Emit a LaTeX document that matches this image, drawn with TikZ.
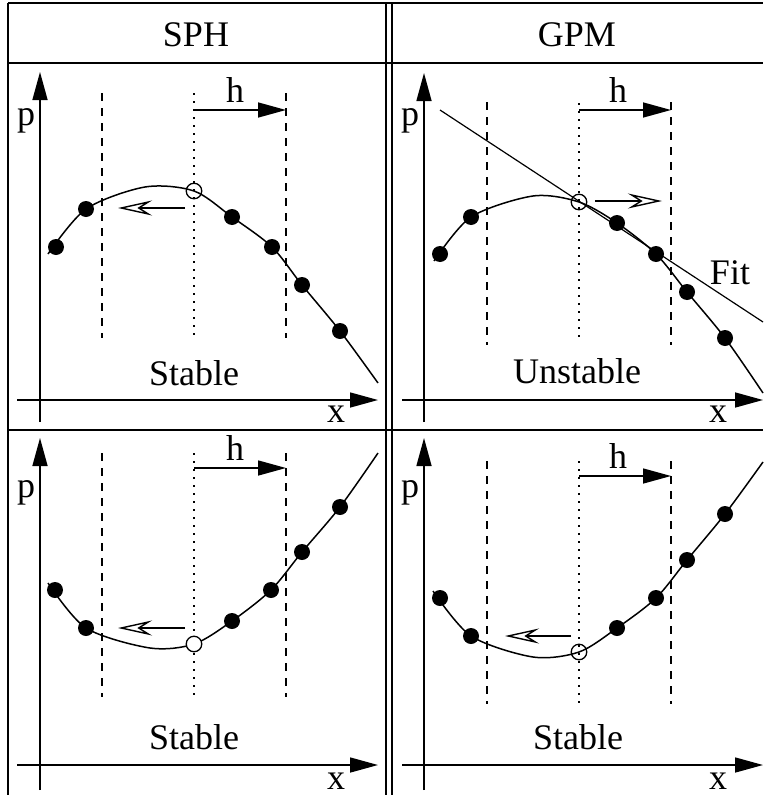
\documentclass[tikz,border=0pt]{standalone}
\usepackage{fontspec}
\setmainfont{Liberation Serif}
\usetikzlibrary{arrows.meta}

\tikzset{
  sample/.style={circle, fill=black, inner sep=0pt, minimum size=16pt},
  ring/.style={circle, draw, inner sep=0pt, minimum size=15.5pt, line width=1.3pt},
  guide/.style={dash pattern=on 8pt off 7pt, line width=1.3pt},
  centre/.style={dash pattern=on 1.5pt off 6.5pt, line width=1.5pt},
  axisline/.style={-{Triangle[length=28pt,width=15pt]}, line width=1.5pt},
  drift/.style={-{Stealth[open,length=34pt,width=15pt,inset=12pt]}, line width=1.4pt},
  lbl/.style={anchor=base, inner sep=0pt, font=\fontsize{36}{40}\selectfont},
}

\begin{document}
\begin{tikzpicture}[x=1pt, y=-1pt, line width=1.5pt]
\useasboundingbox (0,0) rectangle (763,795);

% table frame
\draw[line width=2pt] (8,3) -- (763,3);
\draw[line width=2pt] (8,63) -- (763,63);
\draw[line width=2pt] (8,430) -- (763,430);
\draw[line width=2pt] (8,3) -- (8,795);
\draw[line width=1.5pt] (386,3) -- (386,795);
\draw[line width=1.5pt] (392,3) -- (392,795);
\node[lbl] (sph) at (196,46) {SPH};
\node[lbl] (gpm) at (577,46) {GPM};

% SPH, top
\draw[axisline] (40,422) -- (40,72);
\draw[axisline] (17,400) -- (378,400);
\node[lbl] (p1) at (26,125) {p};
\node[lbl] (x1) at (336,422) {x};
\draw[guide] (102,93) -- (102,338);
\draw[guide] (286,93) -- (286,338);
\draw[centre] (194,93) -- (194,336);
\draw[axisline] (194,110) -- (286,110);
\node[lbl] (h1) at (235,102) {h};
\draw plot[smooth] coordinates {(48,254) (86,209) (145,187) (194,191) (232,217) (272,247) (302,285) (340,331) (378,383)};
\draw[drift] (185,208) -- (118,208);
\foreach \pos in {(56,247),(86,209),(232,217),(272,247),(302,285),(340,331)}
  \node[sample] at \pos {};
\node[ring] (c1) at (194,191) {};
\node[lbl] (s1) at (194,385) {Stable};

% GPM, top
\draw[axisline] (424,422) -- (424,73);
\draw[axisline] (402,400) -- (763,400);
\node[lbl] (p2) at (410,125) {p};
\node[lbl] (x2) at (718,422) {x};
\draw[guide] (487,102) -- (487,345);
\draw[guide] (671,102) -- (671,345);
\draw[centre] (579,103) -- (579,343);
\draw[axisline] (579,110) -- (671,110);
\node[lbl] (h2) at (618,102) {h};
\draw[line width=1.2pt] (440,110) -- (763,322);
\draw plot[smooth] coordinates {(434,261) (471,217) (533,196) (579,202) (617,223) (656,254) (687,292) (725,338) (763,393)};
\draw[drift] (595,201) -- (662,201);
\foreach \pos in {(440,254),(471,217),(617,223),(656,254),(687,292),(725,338)}
  \node[sample] at \pos {};
\node[ring] (c2) at (579,202) {};
\node[lbl] (fit) at (730,284) {Fit};
\node[lbl] (u2) at (577,383) {Unstable};

% SPH, bottom
\draw[axisline] (40,790) -- (40,438);
\draw[axisline] (17,765) -- (378,765);
\node[lbl] (p3) at (26,497) {p};
\node[lbl] (x3) at (336,789) {x};
\draw[guide] (102,453) -- (102,697);
\draw[guide] (286,453) -- (286,697);
\draw[centre] (194,453) -- (194,695);
\draw[axisline] (194,468) -- (286,468);
\node[lbl] (h3) at (235,460) {h};
\draw plot[smooth] coordinates {(48,583) (86,628) (150,648) (194,644) (232,621) (271,590) (302,552) (340,507) (378,453)};
\draw[drift] (185,628) -- (118,628);
\foreach \pos in {(55,590),(86,628),(232,621),(271,590),(302,552),(340,507)}
  \node[sample] at \pos {};
\node[ring, fill=white] (c3) at (194,644) {};
\node[lbl] (s3) at (194,749) {Stable};

% GPM, bottom
\draw[axisline] (424,790) -- (424,438);
\draw[axisline] (402,765) -- (763,765);
\node[lbl] (p4) at (410,497) {p};
\node[lbl] (x4) at (718,789) {x};
\draw[guide] (487,461) -- (487,704);
\draw[guide] (671,461) -- (671,704);
\draw[centre] (579,461) -- (579,704);
\draw[axisline] (579,476) -- (671,476);
\node[lbl] (h4) at (618,468) {h};
\draw plot[smooth] coordinates {(433,591) (471,636) (533,657) (579,652) (617,628) (656,598) (687,560) (725,514) (763,462)};
\draw[drift] (571,636) -- (505,636);
\foreach \pos in {(440,598),(471,636),(617,628),(656,598),(687,560),(725,514)}
  \node[sample] at \pos {};
\node[ring] (c4) at (579,652) {};
\node[lbl] (s4) at (578,749) {Stable};
\end{tikzpicture}
\end{document}
